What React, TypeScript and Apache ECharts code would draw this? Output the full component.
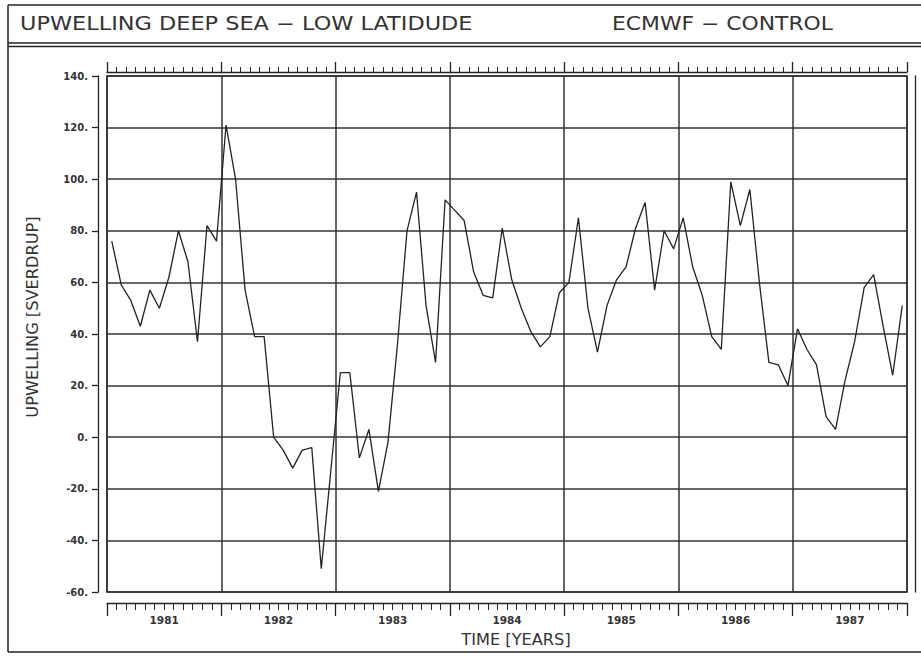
import React, { useEffect, useRef } from "react";
import * as echarts from "echarts";

const startYear = 1981;
const yearLabels = ["1981", "1982", "1983", "1984", "1985", "1986", "1987"];
// Monthly upwelling (Sverdrup), Jan 1981 .. Dec 1987
const upwelling = [
  76, 59, 53, 43, 57, 50, 62, 80, 68, 37, 82, 76,
  121, 100, 57, 39, 39, 0, -5, -12, -5, -4, -51, -13,
  25, 25, -8, 3, -21, -2, 36, 80, 95, 51, 29, 92,
  88, 84, 64, 55, 54, 81, 61, 50, 41, 35, 39, 56,
  60, 85, 50, 33, 51, 61, 66, 81, 91, 57, 80, 73,
  85, 66, 55, 39, 34, 99, 82, 96, 60, 29, 28, 20,
  42, 34, 28, 8, 3, 22, 37, 58, 63, 43, 24, 51,
];
const yMin = -60;
const yMax = 140;
const yStep = 20;
const titleLeft = "UPWELLING DEEP SEA \u2212 LOW LATIDUDE";
const titleRight = "ECMWF \u2212 CONTROL";
const xName = "TIME [YEARS]";
const yName = "UPWELLING [SVERDRUP]";

const INK = "#222";
const TXT = "#333";
const FONT = "DejaVu Sans";

export default function App() {
  const ref = useRef<HTMLDivElement>(null);
  useEffect(() => {
    if (!ref.current) return;
    const chart = echarts.init(ref.current, null, { renderer: "svg" });
    const endYear = startYear + yearLabels.length;
    const data = upwelling.map((v, i) => [startYear + (i + 0.5) / 12, v]);
    const rulerBase = {
      type: "value" as const,
      gridIndex: 0,
      min: startYear,
      max: endYear,
      interval: 1,
      axisLabel: { show: false },
      splitLine: { show: false },
      axisLine: { show: true, onZero: false, lineStyle: { color: INK, width: 1.3 } },
      axisTick: { show: true, inside: false, lineStyle: { color: INK, width: 1.3 } },
      minorTick: { show: true, splitNumber: 12, lineStyle: { color: INK, width: 1 } },
    };
    const frameLine = (x1: number, y1: number, x2: number, y2: number, w: number) => ({
      type: "line",
      silent: true,
      shape: { x1, y1, x2, y2 },
      style: { stroke: INK, lineWidth: w },
    });
    chart.setOption({
      animation: false,
      backgroundColor: "#fff",
      textStyle: { fontFamily: FONT },
      graphic: [
        frameLine(8, 5, 921, 5, 1.5),
        frameLine(8, 43, 921, 43, 1.3),
        frameLine(8, 46.5, 921, 46.5, 1.3),
        frameLine(8, 652, 921, 652, 1.5),
        frameLine(8, 5, 8, 652, 1.5),
        {
          type: "text",
          x: 20,
          y: 24,
          scaleX: 1.18,
          style: { text: titleLeft, fontFamily: FONT, fontSize: 19, fill: TXT, align: "left", verticalAlign: "middle" },
        },
        {
          type: "text",
          x: 612,
          y: 24,
          scaleX: 1.15,
          style: { text: titleRight, fontFamily: FONT, fontSize: 19, fill: TXT, align: "left", verticalAlign: "middle" },
        },
        {
          type: "text",
          x: 516,
          y: 640,
          scaleX: 1.08,
          style: { text: xName, fontFamily: FONT, fontSize: 15, fill: TXT, align: "center", verticalAlign: "middle" },
        },
        {
          type: "text",
          x: 33,
          y: 317,
          rotation: Math.PI / 2,
          scaleX: 1.08,
          style: { text: yName, fontFamily: FONT, fontSize: 15, fill: TXT, align: "center", verticalAlign: "middle" },
        },
      ],
      grid: {
        left: 107,
        right: 14,
        top: 76,
        bottom: 64,
        show: true,
        borderColor: INK,
        borderWidth: 1.5,
        backgroundColor: "transparent",
      },
      xAxis: [
        {
          type: "value",
          gridIndex: 0,
          position: "bottom",
          min: startYear,
          max: endYear,
          interval: 1,
          axisLine: { show: false, onZero: false },
          axisTick: { show: false },
          axisLabel: { show: false },
          splitLine: { show: true, lineStyle: { color: "#333", width: 1.5 } },
        },
        {
          ...rulerBase,
          position: "top",
          offset: 4,
          axisTick: { ...rulerBase.axisTick, length: 10 },
          minorTick: { ...rulerBase.minorTick, length: 5 },
        },
        {
          ...rulerBase,
          position: "bottom",
          offset: 11,
          axisTick: { ...rulerBase.axisTick, length: 13 },
          minorTick: { ...rulerBase.minorTick, length: 7 },
        },
        {
          type: "category",
          gridIndex: 0,
          position: "bottom",
          offset: 11,
          data: yearLabels,
          boundaryGap: true,
          axisLine: { show: false, onZero: false },
          axisTick: { show: false },
          splitLine: { show: false },
          axisLabel: { show: true, margin: 11, fontFamily: FONT, fontSize: 10.5, fontWeight: "bold", color: TXT },
        },
      ],
      yAxis: [
        {
          type: "value",
          gridIndex: 0,
          position: "left",
          offset: 9,
          min: yMin,
          max: yMax,
          interval: yStep,
          axisLine: { show: true, onZero: false, lineStyle: { color: INK, width: 1.3 } },
          axisTick: { show: true, length: 6, lineStyle: { color: INK, width: 1.3 } },
          axisLabel: {
            formatter: (v: number) => `${v}.`,
            margin: 10,
            fontFamily: FONT,
            fontSize: 10,
            fontWeight: "bold",
            color: TXT,
          },
          splitLine: { show: true, lineStyle: { color: "#333", width: 1.5 } },
        },
        {
          type: "value",
          gridIndex: 0,
          position: "right",
          offset: 8,
          min: yMin,
          max: yMax,
          interval: yStep,
          axisLine: { show: true, onZero: false, lineStyle: { color: INK, width: 1.3 } },
          axisTick: { show: false },
          axisLabel: { show: false },
          splitLine: { show: false },
        },
      ],
      series: [
        {
          type: "line",
          xAxisIndex: 0,
          yAxisIndex: 0,
          data,
          symbol: "none",
          lineStyle: { color: INK, width: 1.3 },
        },
      ],
    });
    return () => chart.dispose();
  }, []);
  return <div ref={ref} style={{ width: 921, height: 656, position: "absolute", left: 0, top: 0 }} />;
}
